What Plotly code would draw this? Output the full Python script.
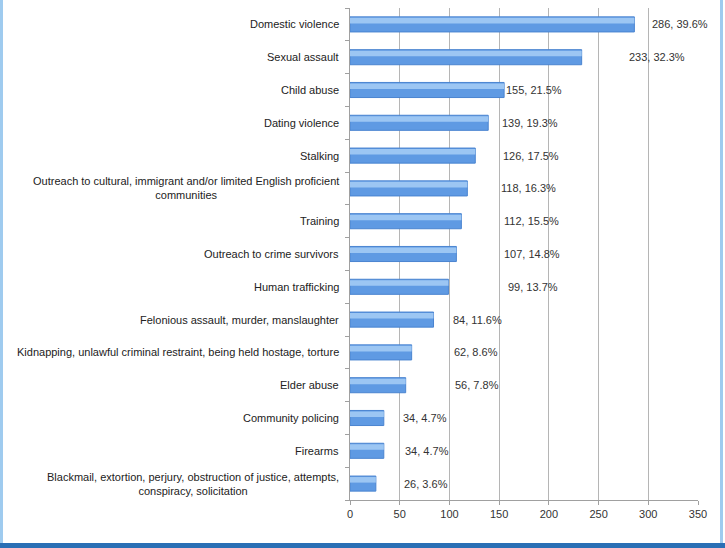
import plotly.graph_objects as go

categories = [
    "Domestic violence",
    "Sexual assault",
    "Child abuse",
    "Dating violence",
    "Stalking",
    "Outreach to cultural, immigrant and/or limited English proficient<br>communities",
    "Training",
    "Outreach to crime survivors",
    "Human trafficking",
    "Felonious assault, murder, manslaughter",
    "Kidnapping, unlawful criminal restraint, being held hostage, torture",
    "Elder abuse",
    "Community policing",
    "Firearms",
    "Blackmail, extortion, perjury, obstruction of justice, attempts,<br>conspiracy, solicitation",
]
counts = [286, 233, 155, 139, 126, 118, 112, 107, 99, 84, 62, 56, 34, 34, 26]
percents = ["39.6%", "32.3%", "21.5%", "19.3%", "17.5%", "16.3%", "15.5%", "14.8%",
            "13.7%", "11.6%", "8.6%", "7.8%", "4.7%", "4.7%", "3.6%"]
x_ticks = [0, 50, 100, 150, 200, 250, 300, 350]

# label anchor positions (style), in axis units, where each data label starts
label_x = [302, 279, 155, 151, 152, 150, 153, 153, 157, 102, 103, 104, 51, 53, 52]

FONT = "Liberation Sans, Arial"

fig = go.Figure()
fig.add_trace(go.Bar(
    y=categories, x=counts, orientation="h", width=0.46,
    marker=dict(color="#5f9ae3", line=dict(color="#4a84d0", width=1)),
    hoverinfo="skip",
))
# light highlight on upper part of bars to mimic the gradient
fig.add_trace(go.Bar(
    y=categories, x=counts, orientation="h", width=0.17, offset=0.03,
    marker=dict(color="#9cc6f3", line=dict(width=0)),
    hoverinfo="skip",
))

for cat, c, p, lx in zip(categories, counts, percents, label_x):
    fig.add_annotation(
        x=lx, y=cat, xref="x", yref="y", text=f"{c}, {p}", showarrow=False,
        xanchor="left", yanchor="middle",
        font=dict(family=FONT, size=11, color="#333333"),
    )
    fig.add_annotation(
        x=0, y=cat, xref="paper", yref="y", text=cat, showarrow=False,
        xanchor="right", yanchor="middle", align="center", xshift=-9,
        font=dict(family=FONT, size=11, color="#222222"),
    )

# frame decoration
fig.add_shape(type="rect", xref="paper", yref="paper",
              x0=-350/348, x1=-347/348, y0=-48/492, y1=8/492 + 1,
              fillcolor="#9fcbef", line=dict(width=0), layer="above")
fig.add_shape(type="rect", xref="paper", yref="paper",
              x0=(720-350)/348, x1=(723-350)/348, y0=-48/492, y1=8/492 + 1,
              fillcolor="#9fcbef", line=dict(width=0), layer="above")
fig.add_shape(type="rect", xref="paper", yref="paper",
              x0=-350/348, x1=(725-350)/348, y0=-48/492, y1=-43/492,
              fillcolor="#2a6fb5", line=dict(width=0), layer="above")

fig.update_layout(
    width=725, height=548,
    margin=dict(l=350, r=27, t=8, b=48),
    paper_bgcolor="white", plot_bgcolor="white",
    showlegend=False, barmode="overlay",
    font=dict(family=FONT, size=11, color="#333333"),
)
fig.update_xaxes(
    range=[0, 350], tickvals=x_ticks, showgrid=True, gridcolor="#b5b5b5", gridwidth=1,
    showline=True, linecolor="#a0a0a0", ticks="outside", ticklen=4, tickcolor="#a0a0a0",
    zeroline=False, tickfont=dict(size=11, color="#333333"), fixedrange=True,
)
fig.update_yaxes(
    categoryorder="array", categoryarray=categories[::-1], autorange=True,
    showline=True, linecolor="#a0a0a0", ticks="outside", ticklen=4, tickcolor="#a0a0a0",
    tickson="boundaries", showgrid=False, showticklabels=False,
    fixedrange=True,
)

fig.write_html("out.html")
